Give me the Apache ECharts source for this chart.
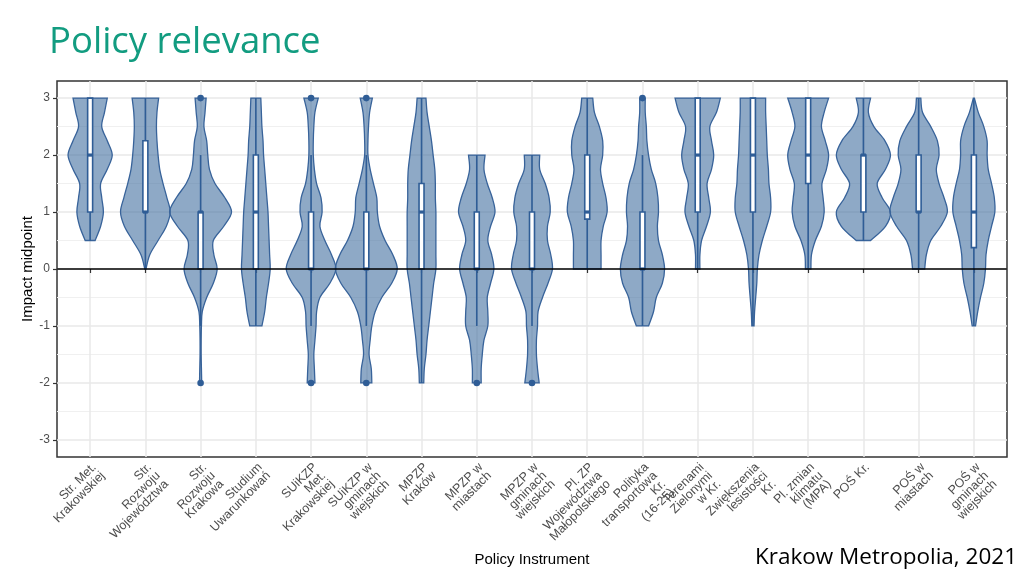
<!DOCTYPE html>
<html><head><meta charset="utf-8">
<script src="https://cdn.jsdelivr.net/npm/echarts@6/dist/echarts.min.js"></script>
<style>html,body{margin:0;padding:0;background:#fff}#chart{width:1024px;height:576px}</style>
</head><body><div id="chart"></div>
<script>
// ---- data ----
const categories = [
  "Str. Met.\nKrakowskiej",
  "Str.\nRozwoju\nWojewództwa",
  "Str.\nRozwoju\nKrakowa",
  "Studium\nUwarunkowań",
  "SUiKZP\nMet.\nKrakowskiej",
  "SUiKZP w\ngminach\nwiejskich",
  "MPZP\nKraków",
  "MPZP w\nmiastach",
  "MPZP w\ngminach\nwiejskich",
  "Pl. ZP\nWojewództwa\nMałopolskiego",
  "Polityka\ntransportowa\nKr.\n(16-25)",
  "Terenami\nZielonymi\nw Kr.",
  "Zwiększenia\nlesistości\nKr.",
  "Pl. zmian\nklimatu\n(MPA)",
  "POŚ Kr.",
  "POŚ w\nmiastach",
  "POŚ w\ngminach\nwiejskich"
];
const yTicks = [-3, -2, -1, 0, 1, 2, 3];
const yMinorTicks = [-2.5, -1.5, -0.5, 0.5, 1.5, 2.5];
// violin range (top, bottom) and half-widths (category units) sampled every 0.25 from top down
const densityStep = 0.25;
const violinHigh = [3, 3, 3, 3, 3, 3, 3, 2, 2, 3, 3, 3, 3, 3, 3, 3, 3];
const violinLow  = [0.5, 0, -2, -1, -2, -2, -2, -2, -2, 0, -1, 0, -1, 0, 0.5, 0, -1];
const halfWidths = [
  [0.31,0.26,0.21,0.31,0.40,0.31,0.19,0.21,0.24,0.19,0.09],
  [0.24,0.21,0.20,0.21,0.23,0.26,0.32,0.39,0.45,0.38,0.23,0.08,0.01],
  [0.10,0.08,0.06,0.11,0.13,0.16,0.26,0.44,0.56,0.42,0.23,0.24,0.30,0.23,0.11,0.03,0.015,0.01,0.01,0.015,0.02],
  [0.09,0.10,0.11,0.13,0.14,0.16,0.18,0.20,0.22,0.23,0.24,0.25,0.26,0.23,0.19,0.16,0.11],
  [0.13,0.07,0.05,0.04,0.04,0.06,0.10,0.18,0.20,0.16,0.25,0.37,0.45,0.34,0.16,0.10,0.09,0.07,0.05,0.06,0.07],
  [0.11,0.06,0.04,0.03,0.03,0.07,0.13,0.19,0.20,0.24,0.34,0.48,0.56,0.46,0.28,0.16,0.10,0.07,0.05,0.09,0.10],
  [0.08,0.10,0.14,0.18,0.21,0.24,0.25,0.25,0.26,0.26,0.26,0.26,0.26,0.22,0.19,0.16,0.13,0.10,0.08,0.05,0.04],
  [0.15,0.13,0.19,0.28,0.33,0.25,0.20,0.27,0.31,0.25,0.19,0.20,0.20,0.13,0.10,0.08,0.08],
  [0.14,0.14,0.24,0.31,0.33,0.28,0.28,0.34,0.37,0.29,0.19,0.11,0.10,0.08,0.08,0.10,0.13],
  [0.10,0.13,0.22,0.28,0.28,0.24,0.28,0.34,0.36,0.29,0.25,0.25,0.25],
  [0.05,0.05,0.07,0.08,0.11,0.16,0.24,0.28,0.29,0.27,0.29,0.36,0.40,0.36,0.25,0.20,0.11],
  [0.41,0.34,0.22,0.25,0.29,0.25,0.17,0.20,0.23,0.16,0.07,0.04,0.04],
  [0.23,0.23,0.24,0.25,0.26,0.28,0.29,0.32,0.32,0.25,0.17,0.11,0.08,0.07,0.05,0.03,0.02],
  [0.37,0.29,0.24,0.31,0.37,0.33,0.25,0.27,0.29,0.24,0.13,0.06,0.05],
  [0.13,0.09,0.19,0.39,0.49,0.40,0.25,0.34,0.49,0.40,0.13],
  [0.04,0.07,0.22,0.34,0.37,0.32,0.37,0.46,0.52,0.40,0.22,0.14,0.11],
  [0.01,0.08,0.18,0.24,0.24,0.26,0.32,0.37,0.38,0.32,0.26,0.22,0.21,0.18,0.12,0.07,0.03]
];
const q1Values      = [1, 1, 0, 0, 0, 0, 0, 0, 0, 0.875, 0, 1, 1, 1.5, 1, 1, 0.375];
const medianValues  = [2, 1, 1, 1, 0, 0, 1, 0, 0, 1, 0, 2, 2, 2, 2, 1, 1];
const q3Values      = [3, 2.25, 1, 2, 1, 1, 1.5, 1, 1, 2, 1, 3, 3, 3, 2, 2, 2];
const whiskerLow    = [0.5, 0, -1, -1, -1, -1, -2, -1, -1, 0, -1, 0, -1, 0, 0.5, 0, -1];
const whiskerHigh   = [3, 3, 2, 3, 2, 2, 3, 2, 2, 3, 2, 3, 3, 3, 3, 3, 3];
const outlierCategory = [3, 3, 5, 5, 6, 6, 8, 9, 11];
const outlierValue    = [3, -2, 3, -2, 3, -2, -2, -2, 3];

// ---- styles ----
const violinFill = 'rgba(66,112,160,0.6)';
const violinStroke = '#38639a';
const boxStroke = '#2f5d96';
const boxHalf = 0.045;

function splinePath(pts) {
  let d = '';
  for (let i = 0; i < pts.length - 1; i++) {
    const p0 = pts[i - 1] || pts[i], p1 = pts[i], p2 = pts[i + 1], p3 = pts[i + 2] || pts[i + 1];
    const c1x = p1[0] + (p2[0] - p0[0]) / 6, c1y = p1[1] + (p2[1] - p0[1]) / 6;
    const c2x = p2[0] - (p3[0] - p1[0]) / 6, c2y = p2[1] - (p3[1] - p1[1]) / 6;
    d += ' C' + c1x + ' ' + c1y + ' ' + c2x + ' ' + c2y + ' ' + p2[0] + ' ' + p2[1];
  }
  return d;
}

function renderViolin(params, api) {
  const i = params.dataIndex;
  const xc = i + 1;
  const hw = halfWidths[i];
  const R = [], L = [];
  for (let k = 0; k < hw.length; k++) {
    const v = violinHigh[i] - k * densityStep;
    const p = api.coord([xc, v]);
    const w = api.size([hw[k], 0])[0];
    R.push([p[0] + w, p[1]]);
    L.push([p[0] - w, p[1]]);
  }
  const Lup = L.slice().reverse();
  const d = 'M' + L[0][0] + ' ' + L[0][1] + ' L' + R[0][0] + ' ' + R[0][1] + splinePath(R) +
            ' L' + Lup[0][0] + ' ' + Lup[0][1] + splinePath(Lup) + ' Z';
  const children = [{
    type: 'path', shape: { pathData: d },
    style: { fill: violinFill, stroke: violinStroke, lineWidth: 1.3 }
  }];
  const bw = api.size([boxHalf, 0])[0];
  const pl = api.coord([xc, whiskerLow[i]]), ph = api.coord([xc, whiskerHigh[i]]);
  children.push({ type: 'line', shape: { x1: pl[0], y1: pl[1], x2: ph[0], y2: ph[1] },
    style: { stroke: boxStroke, lineWidth: 1.6 } });
  const pq3 = api.coord([xc, q3Values[i]]), pq1 = api.coord([xc, q1Values[i]]);
  children.push({ type: 'rect', shape: { x: pq3[0] - bw, y: pq3[1], width: 2 * bw, height: pq1[1] - pq3[1] },
    style: { fill: '#ffffff', stroke: boxStroke, lineWidth: 1.6 } });
  const pm = api.coord([xc, medianValues[i]]);
  children.push({ type: 'line', shape: { x1: pm[0] - bw, y1: pm[1], x2: pm[0] + bw, y2: pm[1] },
    style: { stroke: boxStroke, lineWidth: 3.2 } });
  for (let j = 0; j < outlierCategory.length; j++) {
    if (outlierCategory[j] === xc) {
      const po = api.coord([xc, outlierValue[j]]);
      children.push({ type: 'circle', shape: { cx: po[0], cy: po[1], r: 3.3 }, style: { fill: boxStroke } });
    }
  }
  return { type: 'group', children: children };
}

const tickPositions = categories.map((c, i) => i + 1);
const chart = echarts.init(document.getElementById('chart'), null, { renderer: 'canvas' });
chart.setOption({
  animation: false,
  backgroundColor: '#ffffff',
  title: {
    text: 'Policy relevance', left: 44, top: 19,
    textStyle: { fontFamily: 'Open Sans', fontSize: 36.5, fontWeight: 'normal', color: '#129c80' }
  },
  graphic: [{
    type: 'text', right: 7, bottom: 7,
    style: { text: 'Krakow Metropolia, 2021', font: '22.5px "Open Sans"', fill: '#000000' }
  }],
  grid: { left: 57, right: 17, top: 81, bottom: 119, show: true, borderColor: '#333333', borderWidth: 1.5, backgroundColor: 'transparent' },
  xAxis: {
    type: 'value', min: 0.4, max: 17.6,
    name: 'Policy Instrument', nameLocation: 'middle', nameGap: 95, nameMoveOverlap: false,
    nameTextStyle: { fontFamily: 'Liberation Sans', fontSize: 15, color: '#000000' },
    axisLine: { show: false },
    axisTick: { show: true, customValues: tickPositions, length: 4, lineStyle: { color: '#333333', width: 1.2 } },
    axisLabel: {
      customValues: tickPositions, rotate: 45, align: 'right', verticalAlign: 'top', margin: 4,
      fontFamily: 'Liberation Sans', fontSize: 12.5, lineHeight: 12, color: '#4d4d4d',
      formatter: function (v) { return categories[Math.round(v) - 1]; }
    },
    splitLine: { show: true, lineStyle: { color: '#e8e8e8', width: 1.5 } }
  },
  yAxis: [{
    type: 'value', min: -3.3, max: 3.3,
    name: 'Impact midpoint', nameLocation: 'middle', nameGap: 22, nameMoveOverlap: false,
    nameTextStyle: { fontFamily: 'Liberation Sans', fontSize: 15, color: '#000000' },
    axisLine: { show: false },
    axisTick: { show: true, customValues: yTicks, length: 4, lineStyle: { color: '#333333', width: 1.2 } },
    axisLabel: { customValues: yTicks, fontFamily: 'Liberation Sans', fontSize: 12, color: '#4d4d4d', margin: 7 },
    splitLine: { show: true, lineStyle: { color: '#e8e8e8', width: 1.5 } }
  }, {
    type: 'value', min: -3.3, max: 3.3, position: 'right',
    axisLine: { show: false },
    axisTick: { show: false, customValues: yMinorTicks },
    axisLabel: { show: false, customValues: yMinorTicks },
    splitLine: { show: true, lineStyle: { color: '#f0f0f0', width: 1 } }
  }],
  series: [{
    type: 'custom',
    renderItem: renderViolin,
    encode: { x: 0, y: 1 },
    data: categories.map((c, i) => [i + 1, medianValues[i]]),
    markLine: {
      silent: true, symbol: ['none', 'none'], label: { show: false },
      lineStyle: { color: '#000000', width: 1.6, type: 'solid' },
      data: [{ yAxis: 0 }]
    }
  }]
});
</script></body></html>
